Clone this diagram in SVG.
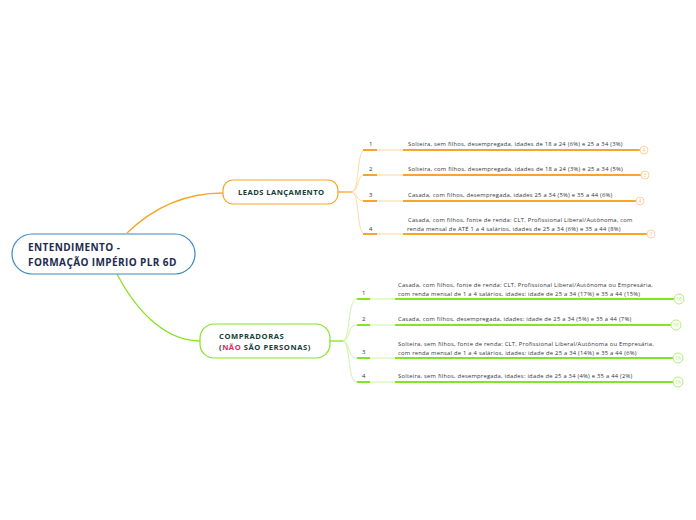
<svg xmlns="http://www.w3.org/2000/svg" width="696" height="520" viewBox="0 0 696 520">
<style>
text{font-family:"Open Sans","Noto Sans","Liberation Sans",sans-serif}
.root{font-size:10px;font-weight:bold;fill:#1c2b4d;letter-spacing:0.4px}
.sub{font-size:7.6px;font-weight:bold;fill:#123d35;letter-spacing:0.45px}
.sub2{letter-spacing:0.55px}
.item{font-size:5.8px;fill:#333;letter-spacing:0.25px}
.num{font-size:6px;fill:#333}
.o{stroke:#f9a42a;fill:none}
.op{stroke:#fdd9a2;fill:none}
.g{stroke:#86e321;fill:none}
.gp{stroke:#cdf5a3;fill:none}
.oc{fill:#fff;stroke:#fdd39a;stroke-width:1}
.gc{fill:#fff;stroke:#b2ef73;stroke-width:1}
.oct{font-size:5px;fill:#f8c77a;text-anchor:middle}
.gct{font-size:5px;fill:#a6ec5f;text-anchor:middle}
</style>
<rect width="696" height="520" fill="#fff"/>
<g id="connectors">
<path class="o" stroke-width="1.3" d="M127,233 C158,203 190,193 223,193"/>
<path class="g" stroke-width="1.3" d="M117,274 C140,318 170,341 200,341"/>
<path class="o" stroke-width="1.3" d="M338,192 L352,192"/>
<path class="op" stroke-width="1" d="M352,192 C360,190 356,150 365,150 M352,192 C360,190 356,175 365,175 M352,192 C358,194 356,201 365,201 M352,192 C360,194 356,234 365,234"/>
<path class="g" stroke-width="1.3" d="M330,341 L343,341"/>
<path class="gp" stroke-width="1" d="M343,341 C351,339 347,299 357,299 M343,341 C351,339 347,325 357,325 M343,341 C351,343 347,358 357,358 M343,341 C351,343 347,382 357,382"/>
</g>
<g id="root">
<rect x="12" y="234" width="183" height="40" rx="20" fill="#fff" stroke="#3b87c6" stroke-width="1.2"/>
<text class="root" x="28" y="251">ENTENDIMENTO -</text>
<text class="root" x="28" y="266">FORMAÇÃO IMPÉRIO PLR 6D</text>
</g>
<g id="leads">
<rect x="223" y="180" width="115" height="24" rx="10" fill="#fff" stroke="#f9a42a" stroke-width="1.2"/>
<text class="sub" x="238" y="195">LEADS LANÇAMENTO</text>
</g>
<g id="compradoras">
<rect x="200" y="324" width="130" height="34" rx="14" fill="#fff" stroke="#86e321" stroke-width="1.2"/>
<text class="sub sub2" x="219" y="339">COMPRADORAS</text>
<text class="sub sub2" x="219" y="350">(<tspan fill="#e2245c">NÃO</tspan> SÃO PERSONAS)</text>
</g>
<g id="lead1">
<path class="o" stroke-width="2" d="M363,150 H377"/><path class="op" d="M377,150 H403"/><path class="o" stroke-width="2" d="M403,150 H640"/>
<text class="num" x="369" y="146">1</text>
<text class="item" x="408" y="146">Solteira, sem filhos, desempregada, idades de 18 a 24 (6%) e 25 a 34 (3%)</text>
<circle class="oc" cx="644" cy="150" r="4"/><text class="oct" x="644" y="151.8">4</text>
</g>
<g id="lead2">
<path class="o" stroke-width="2" d="M363,175 H377"/><path class="op" d="M377,175 H403"/><path class="o" stroke-width="2" d="M403,175 H641"/>
<text class="num" x="369" y="171">2</text>
<text class="item" x="408" y="171">Solteira, com filhos, desempregada, idades de 18 a 24 (3%) e 25 a 34 (5%)</text>
<circle class="oc" cx="645" cy="175" r="4"/><text class="oct" x="645" y="176.8">3</text>
</g>
<g id="lead3">
<path class="o" stroke-width="2" d="M363,201 H377"/><path class="op" d="M377,201 H403"/><path class="o" stroke-width="2" d="M403,201 H636"/>
<text class="num" x="369" y="197">3</text>
<text class="item" x="408" y="197">Casada, com filhos, desempregada, idades 25 a 34 (5%) e 35 a 44 (6%)</text>
<circle class="oc" cx="640" cy="201" r="4"/><text class="oct" x="640" y="202.8">4</text>
</g>
<g id="lead4">
<path class="o" stroke-width="2" d="M363,234 H377"/><path class="op" d="M377,234 H403"/><path class="o" stroke-width="2" d="M403,234 H647"/>
<text class="num" x="369" y="231">4</text>
<text class="item" x="408" y="222">Casada, com filhos, fonte de renda: CLT, Profissional Liberal/Autônoma, com</text>
<text class="item" x="407" y="231">renda mensal de ATÉ 1 a 4 salários, idades de 25 a 34 (6%) e 35 a 44 (8%)</text>
<circle class="oc" cx="651" cy="234" r="4"/><text class="oct" x="651" y="235.8">3</text>
</g>
<g id="comp1">
<path class="g" stroke-width="2" d="M357,299 H370"/><path class="gp" d="M370,299 H395"/><path class="g" stroke-width="2" d="M395,299 H674"/>
<text class="num" x="362" y="295">1</text>
<text class="item" x="398" y="287">Casada, com filhos, fonte de renda: CLT, Profissional Liberal/Autônoma ou Empresária,</text>
<text class="item" x="398" y="296">com renda mensal de 1 a 4 salários, idades: idade de 25 a 34 (17%) e 35 a 44 (15%)</text>
<circle class="gc" cx="679" cy="299" r="5"/><text class="gct" x="679" y="300.8">16</text>
</g>
<g id="comp2">
<path class="g" stroke-width="2" d="M357,325 H370"/><path class="gp" d="M370,325 H395"/><path class="g" stroke-width="2" d="M395,325 H671"/>
<text class="num" x="362" y="321">2</text>
<text class="item" x="398" y="321">Casada, com filhos, desempregada, idades: idade de 25 a 34 (5%) e 35 a 44 (7%)</text>
<circle class="gc" cx="676" cy="325" r="5"/><text class="gct" x="676" y="326.8">16</text>
</g>
<g id="comp3">
<path class="g" stroke-width="2" d="M357,358 H370"/><path class="gp" d="M370,358 H395"/><path class="g" stroke-width="2" d="M395,358 H673"/>
<text class="num" x="362" y="354">3</text>
<text class="item" x="398" y="346">Solteira, sem filhos, fonte de renda: CLT, Profissional Liberal/Autônoma ou Empresária,</text>
<text class="item" x="398" y="355">com renda mensal de 1 a 4 salários, idades: idade de 25 a 34 (14%) e 35 a 44 (6%)</text>
<circle class="gc" cx="678" cy="358" r="5"/><text class="gct" x="678" y="359.8">16</text>
</g>
<g id="comp4">
<path class="g" stroke-width="2" d="M357,382 H370"/><path class="gp" d="M370,382 H395"/><path class="g" stroke-width="2" d="M395,382 H673"/>
<text class="num" x="362" y="378">4</text>
<text class="item" x="398" y="378">Solteira, sem filhos, desempregada, idades: idade de 25 a 34 (4%) e 35 a 44 (2%)</text>
<circle class="gc" cx="678" cy="382" r="5"/><text class="gct" x="678" y="383.8">16</text>
</g>
</svg>
